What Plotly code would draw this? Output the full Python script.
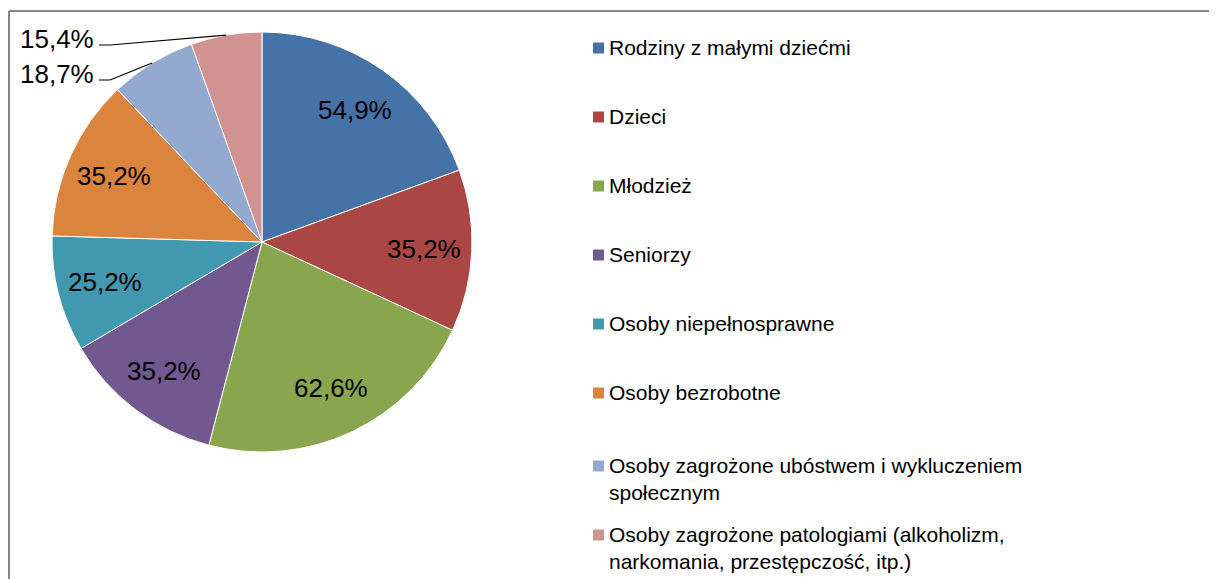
import math
import plotly.graph_objects as go

# data
categories = [
    "Rodziny z małymi dziećmi",
    "Dzieci",
    "Młodzież",
    "Seniorzy",
    "Osoby niepełnosprawne",
    "Osoby bezrobotne",
    "Osoby zagrożone ubóstwem i wykluczeniem<br>społecznym",
    "Osoby zagrożone patologiami (alkoholizm,<br>narkomania, przestępczość, itp.)",
]
values = [54.9, 35.2, 62.6, 35.2, 25.2, 35.2, 18.7, 15.4]
value_labels = ["54,9%", "35,2%", "62,6%", "35,2%", "25,2%", "35,2%", "18,7%", "15,4%"]

colors = ["#4572A7", "#AA4643", "#89A54E", "#71588F",
          "#4198AF", "#DB843D", "#93A9CF", "#D19392"]

# page has an 8px body margin, so the figure is a bit smaller than the window
OFF = 8
W, H = 1217 - OFF, 579 - OFF
CX, CY, R = 262, 242, 210   # pie centre / radius in window px
FONT = "Liberation Sans, Arial, sans-serif"


def px(x):
    return (x - OFF) / W


def py(y):
    return 1 - (y - OFF) / H


fig = go.Figure(go.Pie(
    labels=categories,
    values=values,
    sort=False,
    direction="clockwise",
    rotation=0,
    marker=dict(colors=colors, line=dict(color="white", width=1)),
    textinfo="none",
    hoverinfo="label+value",
    showlegend=False,
    domain=dict(x=[px(CX - R), px(CX + R)], y=[py(CY + R), py(CY - R)]),
))

annotations = []
shapes = []

# slice labels, placed at the middle angle of each slice
total = sum(values)
cum = 0
outside_y = {6: 74, 7: 39}   # small slices get labels outside on the left
for i, v in enumerate(values):
    mid = (cum + v / 2) / total * 2 * math.pi
    cum += v
    if i in outside_y:
        ex, ey = CX + R * math.sin(mid), CY - R * math.cos(mid)
        ly = outside_y[i]
        shapes.append(dict(
            type="path", xref="paper", yref="paper",
            path=f"M {px(ex)},{py(ey)} L {px(110)},{py(ly + 6)} L {px(99)},{py(ly + 6)}",
            line=dict(color="black", width=1.2)))
        annotations.append(dict(
            x=px(96), y=py(ly), xref="paper", yref="paper", xanchor="right", yanchor="middle",
            text=value_labels[i], showarrow=False, font=dict(family=FONT, size=26, color="black")))
    else:
        r = 0.77 * R
        annotations.append(dict(
            x=px(CX + r * math.sin(mid)), y=py(CY - r * math.cos(mid)),
            xref="paper", yref="paper", xanchor="center", yanchor="middle",
            text=value_labels[i], showarrow=False, font=dict(family=FONT, size=26, color="black")))

# legend drawn by hand to match the spacing of the original
for i, (name, c) in enumerate(zip(categories, colors)):
    yc = 48 + 69 * i + (4 if i >= 6 else 0)
    shapes.append(dict(type="rect", xref="paper", yref="paper",
                       x0=px(593), x1=px(604), y0=py(yc + 5.5), y1=py(yc - 5.5),
                       fillcolor=c, line=dict(width=0)))
    annotations.append(dict(
        x=px(607), y=py(yc - 14), xref="paper", yref="paper", xanchor="left", yanchor="top",
        align="left", text=name, showarrow=False,
        font=dict(family=FONT, size=21, color="black")))

# chart frame (runs off the right and bottom of the picture)
shapes.append(dict(type="line", xref="paper", yref="paper",
                   x0=px(9), x1=1.05, y0=py(11), y1=py(11), line=dict(color="#868686", width=2)))
shapes.append(dict(type="line", xref="paper", yref="paper",
                   x0=px(9), x1=px(9), y0=py(11), y1=-0.05, line=dict(color="#868686", width=2)))

fig.update_layout(
    width=W, height=H,
    margin=dict(l=0, r=0, t=0, b=0),
    paper_bgcolor="white",
    plot_bgcolor="white",
    annotations=annotations,
    shapes=shapes,
)

fig.write_html("out.html")
